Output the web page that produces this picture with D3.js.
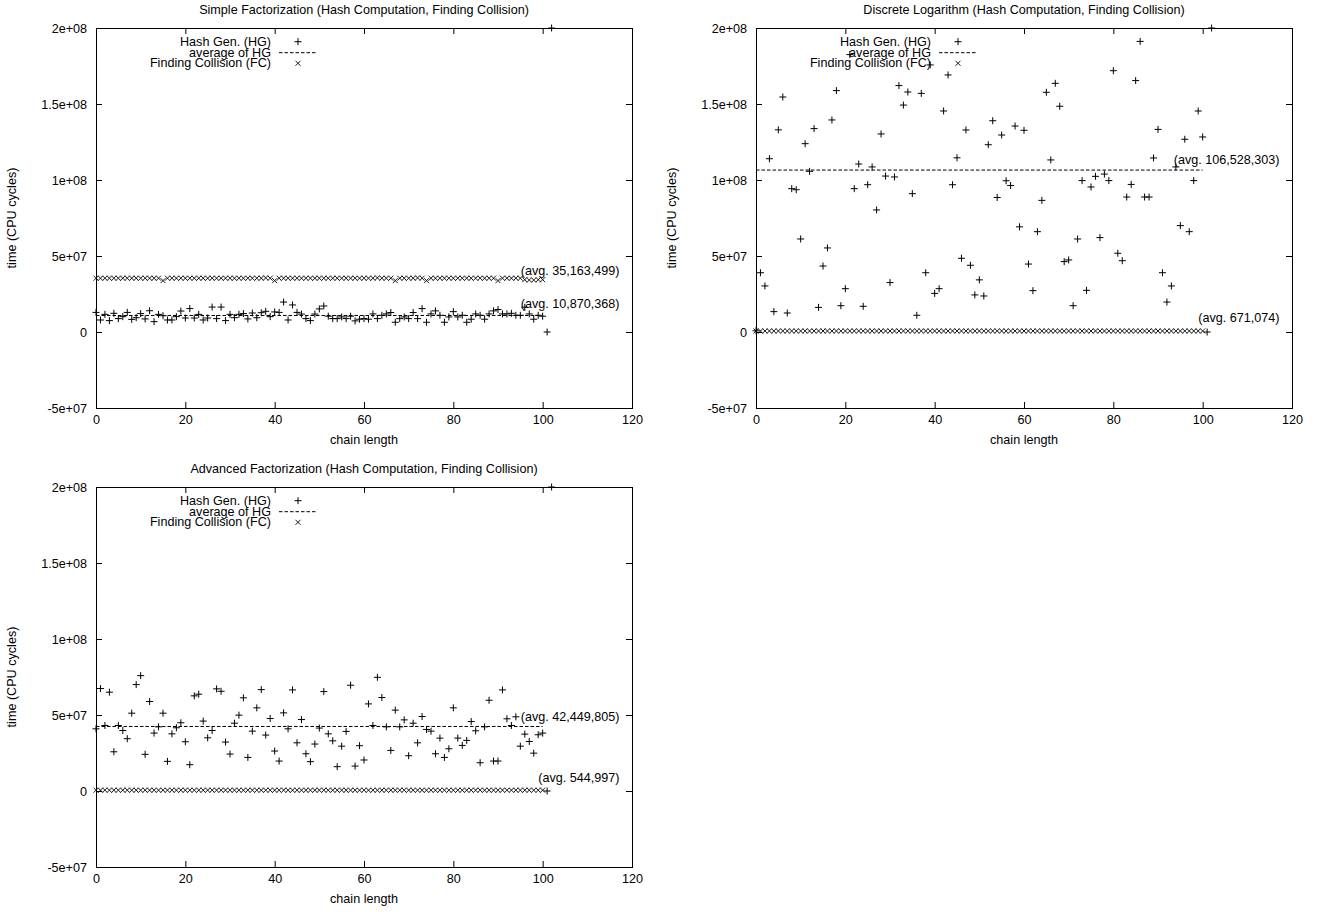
<!DOCTYPE html>
<html>
<head>
<meta charset="utf-8">
<script src="https://cdn.jsdelivr.net/npm/d3@7"></script>
<style>
  body { margin: 0; background: #fff; }
  svg { display: block; font-family: "Liberation Sans", Arial, Helvetica, sans-serif; }
  .tick text { font-size: 12.6px; fill: #000; }
  .tick line { stroke: #000; }
</style>
</head>
<body>
<div id="chart"></div>
<script>
// values in millions of CPU cycles, array index = chain length
var titles = [
  "Simple Factorization (Hash Computation, Finding Collision)",
  "Discrete Logarithm (Hash Computation, Finding Collision)",
  "Advanced Factorization (Hash Computation, Finding Collision)"
];
var xTicks = [0, 20, 40, 60, 80, 100, 120];
var yTicks = [-50, 0, 50, 100, 150, 200];
var yTickLabels = ["-5e+07", "0", "5e+07", "1e+08", "1.5e+08", "2e+08"];
var legendLabels = ["Hash Gen. (HG)", "average of HG", "Finding Collision (FC)"];
var xTitle = "chain length";
var yTitle = "time (CPU cycles)";

var hgSimple = [12.9, 7.9, 11.6, 7.5, 12.3, 8.8, 10.1, 12.9, 8.3, 9.4,
  12.1, 8.6, 14.0, 6.8, 11.6, 10.7, 7.9, 7.9, 10.1, 13.8,
  9.2, 15.4, 9.2, 11.6, 7.9, 9.2, 16.4, 8.8, 16.4, 7.5,
  11.6, 9.4, 11.6, 12.1, 8.6, 12.5, 9.4, 12.7, 13.6, 10.1,
  13.2, 12.9, 19.7, 7.9, 17.8, 12.9, 11.8, 8.8, 7.5, 11.8,
  15.2, 17.1, 10.4, 8.8, 8.8, 9.9, 8.8, 10.4, 7.3, 8.4,
  8.8, 8.4, 11.9, 8.8, 11.0, 11.9, 12.8, 6.4, 8.8, 9.9,
  8.8, 12.8, 8.8, 15.4, 6.4, 11.9, 13.9, 11.0, 6.4, 9.9,
  13.4, 9.9, 11.0, 6.4, 8.4, 11.9, 11.0, 8.4, 11.9, 13.9,
  14.8, 11.9, 11.9, 12.3, 11.0, 11.0, 16.3, 11.9, 8.4, 11.0,
  10.4, 0, 200];
var fcSimple = [35.4, 35.4, 35.4, 35.4, 35.4, 35.4, 35.4, 35.4, 35.4, 35.4,
  35.4, 35.4, 35.4, 35.4, 35.4, 33.8, 35.4, 35.4, 35.4, 35.4,
  35.4, 35.4, 35.4, 35.4, 35.4, 35.4, 35.4, 35.4, 35.4, 35.4,
  35.4, 35.4, 35.4, 35.4, 35.4, 35.4, 35.4, 35.4, 35.6, 35.4,
  33.8, 35.4, 35.4, 35.4, 35.4, 35.4, 35.4, 35.4, 35.4, 35.4,
  35.4, 35.4, 35.4, 35.4, 35.4, 35.4, 35.4, 35.4, 35.4, 35.4,
  35.4, 35.4, 35.4, 35.6, 35.4, 35.4, 35.4, 33.8, 35.4, 35.4,
  35.4, 35.4, 35.6, 35.4, 33.8, 35.4, 35.4, 35.4, 35.4, 35.4,
  35.4, 35.4, 35.4, 35.4, 35.4, 35.4, 35.4, 35.4, 35.4, 35.4,
  33.8, 35.4, 35.4, 35.4, 35.4, 35.4, 34.4, 34.2, 34.2, 34.4,
  34.4];

var hgDiscrete = [0.8, 39.0, 30.3, 114.0, 13.4, 133.0, 154.6, 12.5, 94.3, 93.6,
  61.2, 123.9, 105.7, 133.8, 16.2, 43.4, 55.3, 139.5, 158.8, 17.3,
  28.5, 182.5, 94.3, 110.5, 16.9, 96.9, 108.6, 80.3, 130.3, 102.6,
  32.5, 102.0, 162.1, 149.3, 157.9, 91.0, 11.0, 157.0, 39.0, 175.7,
  25.4, 28.5, 145.4, 169.1, 96.9, 114.6, 48.5, 132.9, 43.9, 24.4,
  34.3, 23.7, 123.2, 139.0, 88.5, 129.6, 99.5, 96.4, 135.5, 69.2,
  132.7, 44.7, 27.2, 66.0, 86.6, 157.7, 113.2, 163.6, 148.5, 46.3,
  47.4, 17.3, 61.2, 99.6, 27.4, 95.4, 102.4, 62.1, 103.9, 99.6,
  171.9, 51.8, 46.9, 88.8, 97.1, 165.4, 191.2, 88.8, 88.8, 114.5,
  133.3, 39.0, 19.7, 30.3, 108.6, 70.0, 126.8, 66.0, 99.6, 145.4,
  128.3, 0, 200];
var fcDiscrete = [0.67, 0.67, 0.67, 0.67, 0.67, 0.67, 0.67, 0.67, 0.67, 0.67,
  0.67, 0.67, 0.67, 0.67, 0.67, 0.67, 0.67, 0.67, 0.67, 0.67,
  0.67, 0.67, 0.67, 0.67, 0.67, 0.67, 0.67, 0.67, 0.67, 0.67,
  0.67, 0.67, 0.67, 0.67, 0.67, 0.67, 0.67, 0.67, 0.67, 0.67,
  0.67, 0.67, 0.67, 0.67, 0.67, 0.67, 0.67, 0.67, 0.67, 0.67,
  0.67, 0.67, 0.67, 0.67, 0.67, 0.67, 0.67, 0.67, 0.67, 0.67,
  0.67, 0.67, 0.67, 0.67, 0.67, 0.67, 0.67, 0.67, 0.67, 0.67,
  0.67, 0.67, 0.67, 0.67, 0.67, 0.67, 0.67, 0.67, 0.67, 0.67,
  0.67, 0.67, 0.67, 0.67, 0.67, 0.67, 0.67, 0.67, 0.67, 0.67,
  0.67, 0.67, 0.67, 0.67, 0.67, 0.67, 0.67, 0.67, 0.67, 0.67,
  0.67];

var hgAdvanced = [40.9, 67.4, 43.1, 65.0, 25.8, 43.1, 39.8, 34.4, 51.2, 70.0,
  75.9, 24.1, 58.9, 38.1, 42.2, 51.2, 19.5, 37.6, 41.6, 44.9,
  32.4, 17.3, 62.6, 63.7, 46.0, 35.0, 39.8, 67.2, 65.6, 32.2,
  24.3, 44.6, 49.9, 61.3, 22.1, 39.4, 54.7, 66.7, 36.8, 47.7,
  26.3, 19.7, 51.4, 40.9, 66.5, 31.7, 47.0, 24.5, 19.3, 30.9,
  41.4, 65.4, 37.6, 33.0, 16.0, 29.5, 39.2, 69.6, 16.4, 29.8,
  20.4, 57.3, 43.1, 74.8, 61.5, 42.2, 26.7, 53.2, 42.2, 46.8,
  23.2, 44.6, 31.7, 49.0, 40.5, 39.4, 24.5, 34.8, 22.1, 27.8,
  54.7, 34.8, 30.0, 33.3, 45.7, 39.6, 18.6, 42.2, 59.7, 19.7,
  19.7, 66.5, 47.5, 43.1, 48.8, 29.5, 37.4, 32.6, 24.9, 37.0,
  38.1, 0, 200];
var fcAdvanced = [0.54, 0.54, 0.54, 0.54, 0.54, 0.54, 0.54, 0.54, 0.54, 0.54,
  0.54, 0.54, 0.54, 0.54, 0.54, 0.54, 0.54, 0.54, 0.54, 0.54,
  0.54, 0.54, 0.54, 0.54, 0.54, 0.54, 0.54, 0.54, 0.54, 0.54,
  0.54, 0.54, 0.54, 0.54, 0.54, 0.54, 0.54, 0.54, 0.54, 0.54,
  0.54, 0.54, 0.54, 0.54, 0.54, 0.54, 0.54, 0.54, 0.54, 0.54,
  0.54, 0.54, 0.54, 0.54, 0.54, 0.54, 0.54, 0.54, 0.54, 0.54,
  0.54, 0.54, 0.54, 0.54, 0.54, 0.54, 0.54, 0.54, 0.54, 0.54,
  0.54, 0.54, 0.54, 0.54, 0.54, 0.54, 0.54, 0.54, 0.54, 0.54,
  0.54, 0.54, 0.54, 0.54, 0.54, 0.54, 0.54, 0.54, 0.54, 0.54,
  0.54, 0.54, 0.54, 0.54, 0.54, 0.54, 0.54, 0.54, 0.54, 0.54,
  0.54];

// averages (HG, FC) and the height the "(avg. ...)" notes sit at
var hgAverages = [10.870368, 106.528303, 42.449805];
var fcAverages = [35.163499, 0.671074, 0.544997];
var hgAvgText = ["(avg. 10,870,368)", "(avg. 106,528,303)", "(avg. 42,449,805)"];
var fcAvgText = ["(avg. 35,163,499)", "(avg. 671,074)", "(avg. 544,997)"];
var hgNoteAt = [18.4, 113.0, 49.0];
var fcNoteAt = [40.1, 9.4, 8.8];

var panels = [
  { title: titles[0], hg: hgSimple, fc: fcSimple, hgAvg: hgAverages[0], fcAvg: fcAverages[0],
    hgText: hgAvgText[0], fcText: fcAvgText[0], hgNote: hgNoteAt[0], fcNote: fcNoteAt[0], dx: 0, dy: 0 },
  { title: titles[1], hg: hgDiscrete, fc: fcDiscrete, hgAvg: hgAverages[1], fcAvg: fcAverages[1],
    hgText: hgAvgText[1], fcText: fcAvgText[1], hgNote: hgNoteAt[1], fcNote: fcNoteAt[1], dx: 660, dy: 0 },
  { title: titles[2], hg: hgAdvanced, fc: fcAdvanced, hgAvg: hgAverages[2], fcAvg: fcAverages[2],
    hgText: hgAvgText[2], fcText: fcAvgText[2], hgNote: hgNoteAt[2], fcNote: fcNoteAt[2], dx: 0, dy: 459 }
];

var plotLeft = 96, plotRight = 632, plotTop = 28, plotBottom = 408;
var fontSize = 12.6;

function plusPath(x, y) {
  return "M" + (x - 3.5) + "," + y + "h7M" + x + "," + (y - 3.5) + "v7";
}
function timesPath(x, y) {
  return "M" + (x - 2.5) + "," + (y - 2.5) + "l5,5M" + (x + 2.5) + "," + (y - 2.5) + "l-5,5";
}

function drawPanel(svg, p) {
  var g = svg.append("g").attr("transform", "translate(" + p.dx + "," + p.dy + ")");

  var xScale = d3.scaleLinear().domain([0, 120]).range([plotLeft, plotRight]);
  var yScale = d3.scaleLinear().domain([-50, 200]).range([plotBottom, plotTop]);

  //axes, ticks drawn inward on all four sides
  var ax = g.append("g").attr("class", "axes");
  ax.append("g").attr("transform", "translate(" + plotLeft + ",0)")
    .call(d3.axisLeft(yScale).tickValues(yTicks).tickSize(-6).tickPadding(9)
      .tickFormat(function (d, i) { return yTickLabels[i]; }));
  ax.append("g").attr("transform", "translate(" + plotRight + ",0)")
    .call(d3.axisRight(yScale).tickValues(yTicks).tickSize(-6).tickFormat(""));
  ax.append("g").attr("transform", "translate(0," + plotBottom + ")")
    .call(d3.axisBottom(xScale).tickValues(xTicks).tickSize(-6).tickPadding(7)
      .tickFormat(d3.format("d")));
  ax.append("g").attr("transform", "translate(0," + plotTop + ")")
    .call(d3.axisTop(xScale).tickValues(xTicks).tickSize(-6).tickFormat(""));
  ax.selectAll(".domain").remove();
  ax.selectAll("text").style("font-family", "'Liberation Sans', Arial, sans-serif");

  g.append("rect")
    .attr("x", plotLeft + 0.5).attr("y", plotTop + 0.5)
    .attr("width", plotRight - plotLeft).attr("height", plotBottom - plotTop)
    .attr("fill", "none").attr("stroke", "#000").attr("stroke-width", 1);

  // titles
  g.append("text").attr("x", (plotLeft + plotRight) / 2).attr("y", 10)
    .attr("text-anchor", "middle").attr("dominant-baseline", "central")
    .attr("font-size", fontSize).text(p.title);
  g.append("text").attr("x", (plotLeft + plotRight) / 2).attr("y", 440)
    .attr("text-anchor", "middle").attr("dominant-baseline", "central")
    .attr("font-size", fontSize).text(xTitle);
  g.append("text").attr("transform", "translate(12," + (plotTop + plotBottom) / 2 + ") rotate(-90)")
    .attr("text-anchor", "middle").attr("dominant-baseline", "central")
    .attr("font-size", fontSize).text(yTitle);

  // average of HG
  g.append("line")
    .attr("x1", xScale(0)).attr("x2", xScale(100))
    .attr("y1", yScale(p.hgAvg)).attr("y2", yScale(p.hgAvg))
    .attr("stroke", "#000").attr("stroke-width", 1).attr("stroke-dasharray", "3.5,2");

  // FC points
  g.append("path")
    .attr("d", p.fc.map(function (d, i) { return timesPath(xScale(i), yScale(d)); }).join(""))
    .attr("fill", "none").attr("stroke", "#000").attr("stroke-width", 0.9);

  // HG points
  g.append("path")
    .attr("d", p.hg.map(function (d, i) { return plusPath(xScale(i), yScale(d)); }).join(""))
    .attr("fill", "none").attr("stroke", "#000").attr("stroke-width", 1);

  // avg notes
  g.append("text").attr("x", plotRight - 12.5).attr("y", yScale(p.hgNote))
    .attr("text-anchor", "end").attr("dominant-baseline", "central")
    .attr("font-size", fontSize).text(p.hgText);
  g.append("text").attr("x", plotRight - 12.5).attr("y", yScale(p.fcNote))
    .attr("text-anchor", "end").attr("dominant-baseline", "central")
    .attr("font-size", fontSize).text(p.fcText);

  // legend
  var rowY = [plotTop + 13.7, plotTop + 24.7, plotTop + 35.3];
  var leg = g.append("g").attr("class", "legend");
  leg.selectAll("text").data(legendLabels).enter().append("text")
    .attr("x", 271).attr("y", function (d, i) { return rowY[i]; })
    .attr("text-anchor", "end").attr("dominant-baseline", "central")
    .attr("font-size", fontSize).text(function (d) { return d; });
  leg.append("path").attr("d", plusPath(298, rowY[0]))
    .attr("fill", "none").attr("stroke", "#000");
  leg.append("line").attr("x1", 279).attr("x2", 317).attr("y1", rowY[1]).attr("y2", rowY[1])
    .attr("stroke", "#000").attr("stroke-dasharray", "3.5,2");
  leg.append("path").attr("d", timesPath(298, rowY[2]))
    .attr("fill", "none").attr("stroke", "#000").attr("stroke-width", 0.9);
}

document.addEventListener('DOMContentLoaded', function () {
  var svg = d3.select("#chart").append("svg")
    .attr("width", 1329).attr("height", 912);
  svg.append("rect").attr("width", 1329).attr("height", 912).attr("fill", "#fff");
  panels.forEach(function (p) { drawPanel(svg, p); });
}, false);
</script>
</body>
</html>
